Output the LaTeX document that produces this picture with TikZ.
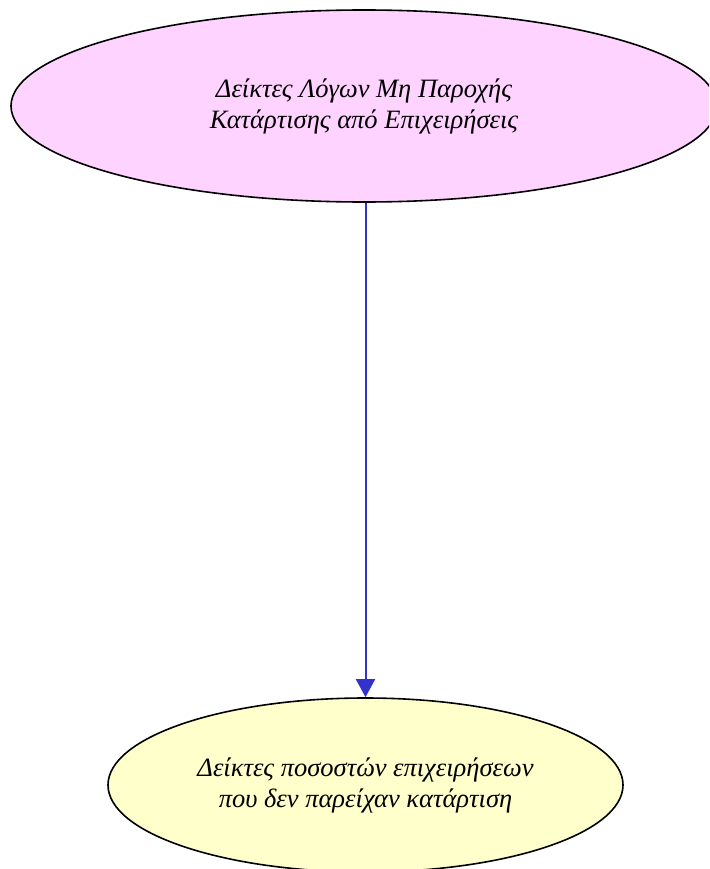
\documentclass[tikz,border=0pt]{standalone}
\usepackage{fontspec}
\setmainfont{Liberation Serif}
\usetikzlibrary{shapes.geometric,arrows.meta}
\definecolor{pinkfill}{RGB}{255,211,255}
\definecolor{yellowfill}{RGB}{255,255,204}
\definecolor{edgeblue}{RGB}{51,51,204}
\tikzset{
  blob/.style={ellipse, draw=black, line width=1.6pt, inner sep=0pt,
    font=\fontsize{26.5}{31}\selectfont\itshape, align=center},
  link/.style={draw=edgeblue, line width=2pt, -{Triangle[length=18pt,width=19pt]}}
}
\begin{document}
\begin{tikzpicture}[x=1pt,y=1pt]
\useasboundingbox (0,0) rectangle (709,-869);
\clip (0,0) rectangle (709,-869);
\node[blob, fill=pinkfill, minimum width=706pt, minimum height=192pt] (top) at (364,-106)
  {Δείκτες Λόγων Μη Παροχής\\ Κατάρτισης από Επιχειρήσεις};
\node[blob, fill=yellowfill, minimum width=515pt, minimum height=174pt] (bot) at (365.5,-785)
  {Δείκτες ποσοστών επιχειρήσεων\\ που δεν παρείχαν κατάρτιση};
\draw[link] (top.south -| bot.north) -- (bot.north);
\end{tikzpicture}
\end{document}
